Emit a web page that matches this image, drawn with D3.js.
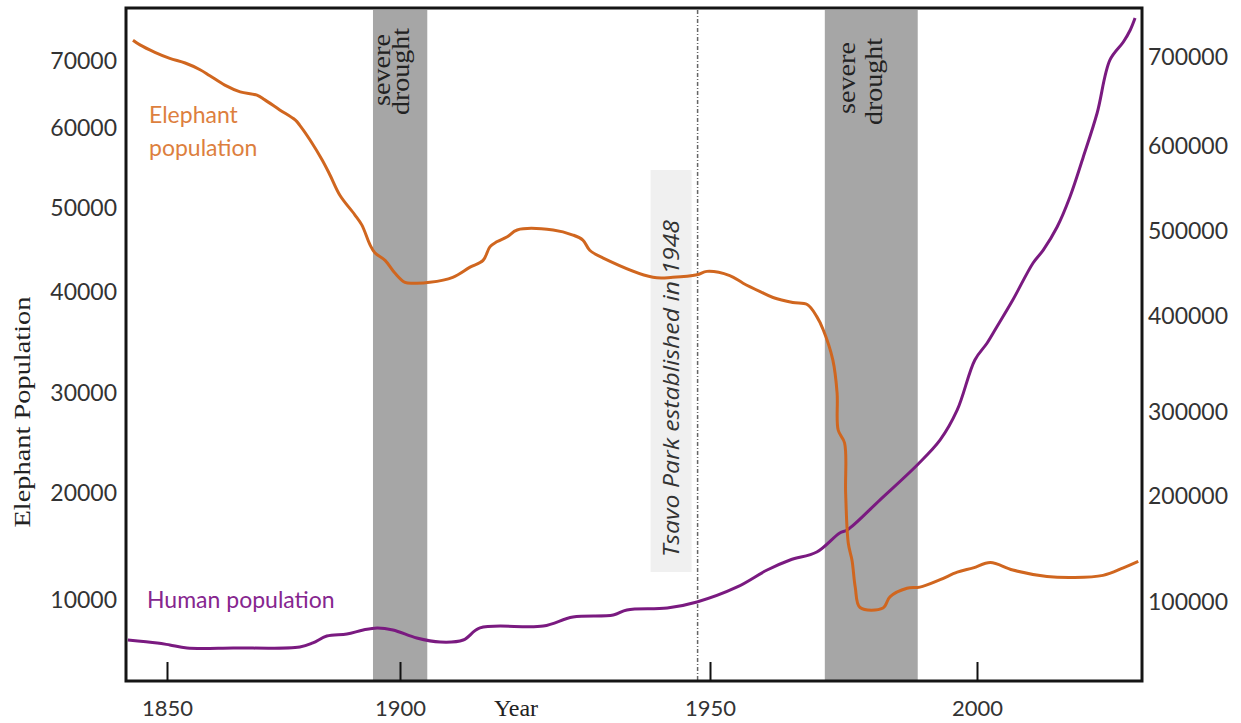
<!DOCTYPE html>
<html>
<head>
<meta charset="utf-8">
<script src="https://cdn.jsdelivr.net/npm/d3@7"></script>
<style>
  html, body { margin: 0; padding: 0; background: #fff; }
  svg { display: block; }
</style>
</head>
<body>
<svg id="chart" width="1241" height="723"></svg>
<script>
// ---------- DATA ----------
const elephantYears = [1842.7,1844.2,1847.4,1850.6,1853.9,1857.1,1859.2,1862.4,1865.7,1869.3,1871.0,1874.2,1877.5,1878.5,1880.7,1883.3,1885.0,1887.1,1890.3,1891.8,1893.6,1894.6,1896.8,1898.9,1900.8,1902.4,1904.8,1908.5,1911.3,1913.4,1914.5,1915.6,1917.3,1918.9,1924.7,1927.9,1929.5,1930.6,1932.7,1940.8,1944.0,1947.9,1949.5,1953.7,1956.2,1959.4,1961.8,1965.5,1968.2,1970.0,1971.2,1973.0,1973.8,1974.0,1975.2,1975.4,1975.9,1976.6,1977.2,1978.1,1982.4,1983.7,1986.9,1989.3,1993.1,1996.3,1999.3,2002.5,2006.7,2013.1,2018.0,2023.6,2027.4,2030.2];
const elephantValues = [73100,72400,71300,70400,69700,68700,67800,66400,65400,64900,64200,62700,61200,60400,58500,56000,54100,51600,49200,48000,45600,44700,43800,42300,41200,41100,41200,41800,43000,43800,45400,46000,46600,47400,47400,46800,46200,45000,44100,41800,41800,42100,42500,42000,41100,40100,39500,39000,38800,37600,36300,33300,30000,26300,25000,20000,15300,13700,11200,9300,9250,10300,11100,11200,11900,12600,13000,13500,12800,12200,12100,12300,13000,13600];

const humanYears = [1841.6,1847.9,1850.6,1854.3,1864.2,1878.5,1881.3,1884.3,1888.6,1892.1,1895.1,1898.5,1902.7,1906.5,1910.2,1912.9,1923.1,1927.9,1934.4,1936.6,1943.1,1947.9,1955.1,1960.7,1965.0,1970.0,1974.3,1975.7,1981.8,1988.8,1993.1,1996.3,1999.6,2001.9,2003.7,2006.7,2010.5,2012.4,2015.0,2017.4,2019.9,2022.5,2024.9,2027.4,2028.7,2029.6];
const humanValues = [64800,62000,60100,57300,57300,58200,62000,68500,70400,74200,76100,74200,66700,62900,64800,76100,77900,86400,88300,93000,94800,100500,114600,130500,139900,147400,165300,168100,196200,237100,267100,302600,354400,372000,388600,418800,462400,477600,504700,540000,587100,637300,697200,717500,731100,744600];

const yearTicks = [1850, 1900, 1950, 2000];
const elephantTicks = [10000, 20000, 30000, 40000, 50000, 60000, 70000];
const humanTicks = [100000, 200000, 300000, 400000, 500000, 600000, 700000];

const droughtStarts = [1894.2, 1971.5];
const droughtEnds = [1904.4, 1988.9];
const parkYear = 1948;

// ---------- LAYOUT ----------
const frame = { left: 126, top: 8, right: 1142, bottom: 681 };
const svg = d3.select("#chart");

// Non-uniform (piecewise) scales matching the reference's axis placement
const x = d3.scaleLinear().domain(yearTicks).range([167, 400, 710, 977]);
const yL = d3.scaleLinear().domain(elephantTicks).range([600, 493, 393, 292.5, 208, 128, 61]);
const yR = d3.scaleLinear().domain(humanTicks).range([602.5, 496, 412.5, 316, 231, 146, 57.5]);

const labelFont = "Lato, 'Open Sans', sans-serif";
const serif = "'Liberation Serif', 'DejaVu Serif', serif";

// drought bands
const bands = svg.append("g");
droughtStarts.forEach((s, i) => {
  bands.append("rect")
    .attr("x", x(s)).attr("y", frame.top + 2)
    .attr("width", x(droughtEnds[i]) - x(s))
    .attr("height", frame.bottom - frame.top - 2)
    .attr("fill", "#a6a6a6");
});

// drought labels
const droughtText = [
  { yr: (droughtStarts[0] + droughtEnds[0]) / 2, lines: [{ t: "severe", dx: -7, cy: 70, len: 72 }, { t: "drought", dx: 12, cy: 71.5, len: 87 }] },
  { yr: (droughtStarts[1] + droughtEnds[1]) / 2, lines: [{ t: "severe", dx: -16, cy: 78, len: 72 }, { t: "drought", dx: 11, cy: 81.5, len: 87 }] }
];
droughtText.forEach(d => {
  const cx = x(d.yr);
  d.lines.forEach(l => {
    svg.append("text")
      .attr("transform", `translate(${cx + l.dx},${l.cy}) rotate(-90)`)
      .attr("text-anchor", "middle")
      .attr("textLength", l.len).attr("lengthAdjust", "spacingAndGlyphs")
      .attr("font-family", serif).attr("font-size", 25)
      .attr("fill", "#222")
      .text(l.t);
  });
});

// Tsavo park annotation
const px = x(parkYear);
svg.append("rect")
  .attr("x", px - 47).attr("y", 170).attr("width", 41).attr("height", 402)
  .attr("fill", "#f0f0f0");
svg.append("line")
  .attr("x1", px).attr("x2", px).attr("y1", frame.top + 2).attr("y2", frame.bottom)
  .attr("stroke", "#666").attr("stroke-width", 1.5).attr("stroke-dasharray", "4,2,1,2");
svg.append("text")
  .attr("transform", `translate(${px - 19},388.5) rotate(-90)`)
  .attr("text-anchor", "middle")
  .attr("textLength", 337).attr("lengthAdjust", "spacingAndGlyphs")
  .attr("font-family", "'Open Sans', sans-serif").attr("font-style", "italic").attr("font-size", 22)
  .attr("fill", "#333")
  .text("Tsavo Park established in 1948");

// lines
const elephantData = elephantYears.map((yr, i) => [yr, elephantValues[i]]);
const humanData = humanYears.map((yr, i) => [yr, humanValues[i]]);

svg.append("path")
  .datum(humanData)
  .attr("fill", "none").attr("stroke", "#7a1a80").attr("stroke-width", 3)
  .attr("stroke-linejoin", "round")
  .attr("d", d3.line().x(d => x(d[0])).y(d => yR(d[1])).curve(d3.curveCatmullRom.alpha(0.5)));

svg.append("path")
  .datum(elephantData)
  .attr("fill", "none").attr("stroke", "#d0661f").attr("stroke-width", 3)
  .attr("stroke-linejoin", "round")
  .attr("d", d3.line().x(d => x(d[0])).y(d => yL(d[1])).curve(d3.curveCatmullRom.alpha(0.5)));

// frame
svg.append("rect")
  .attr("x", frame.left).attr("y", frame.top)
  .attr("width", frame.right - frame.left).attr("height", frame.bottom - frame.top)
  .attr("fill", "none").attr("stroke", "#151515").attr("stroke-width", 3);

// x axis (inward ticks)
const xAxis = svg.append("g")
  .attr("transform", `translate(0,${frame.bottom})`)
  .call(d3.axisBottom(x).tickValues(yearTicks).tickFormat(d3.format("d")).tickSizeInner(-19).tickSizeOuter(0).tickPadding(19));
xAxis.select(".domain").remove();
xAxis.selectAll(".tick line").attr("stroke", "#111").attr("stroke-width", 2);
xAxis.selectAll(".tick text").attr("font-family", labelFont).attr("font-size", 22).attr("fill", "#333");

// left axis
const lAxis = svg.append("g")
  .attr("transform", `translate(${frame.left},0)`)
  .call(d3.axisLeft(yL).tickValues(elephantTicks).tickFormat(d3.format("d")).tickSize(0).tickPadding(9));
lAxis.select(".domain").remove();
lAxis.selectAll(".tick text").attr("font-family", labelFont).attr("font-size", 23).attr("fill", "#333");

// right axis
const rAxis = svg.append("g")
  .attr("transform", `translate(${frame.right},0)`)
  .call(d3.axisRight(yR).tickValues(humanTicks).tickFormat(d3.format("d")).tickSize(0).tickPadding(6));
rAxis.select(".domain").remove();
rAxis.selectAll(".tick text").attr("font-family", labelFont).attr("font-size", 23).attr("fill", "#333");

// axis titles
svg.append("text")
  .attr("transform", "translate(30,412) rotate(-90)")
  .attr("text-anchor", "middle")
  .attr("textLength", 231).attr("lengthAdjust", "spacingAndGlyphs")
  .attr("font-family", serif).attr("font-size", 24).attr("fill", "#222")
  .text("Elephant Population");
svg.append("text")
  .attr("x", 516).attr("y", 716)
  .attr("text-anchor", "middle")
  .attr("font-family", serif).attr("font-size", 24).attr("fill", "#222")
  .text("Year");

// series labels
const eLab = svg.append("text")
  .attr("font-family", labelFont).attr("font-size", 23).attr("fill", "#dd7f3e");
eLab.append("tspan").attr("x", 149).attr("y", 123).text("Elephant");
eLab.append("tspan").attr("x", 149).attr("y", 156).text("population");

svg.append("text")
  .attr("x", 147).attr("y", 608)
  .attr("font-family", labelFont).attr("font-size", 23).attr("fill", "#86268f")
  .text("Human population");
</script>
</body>
</html>
